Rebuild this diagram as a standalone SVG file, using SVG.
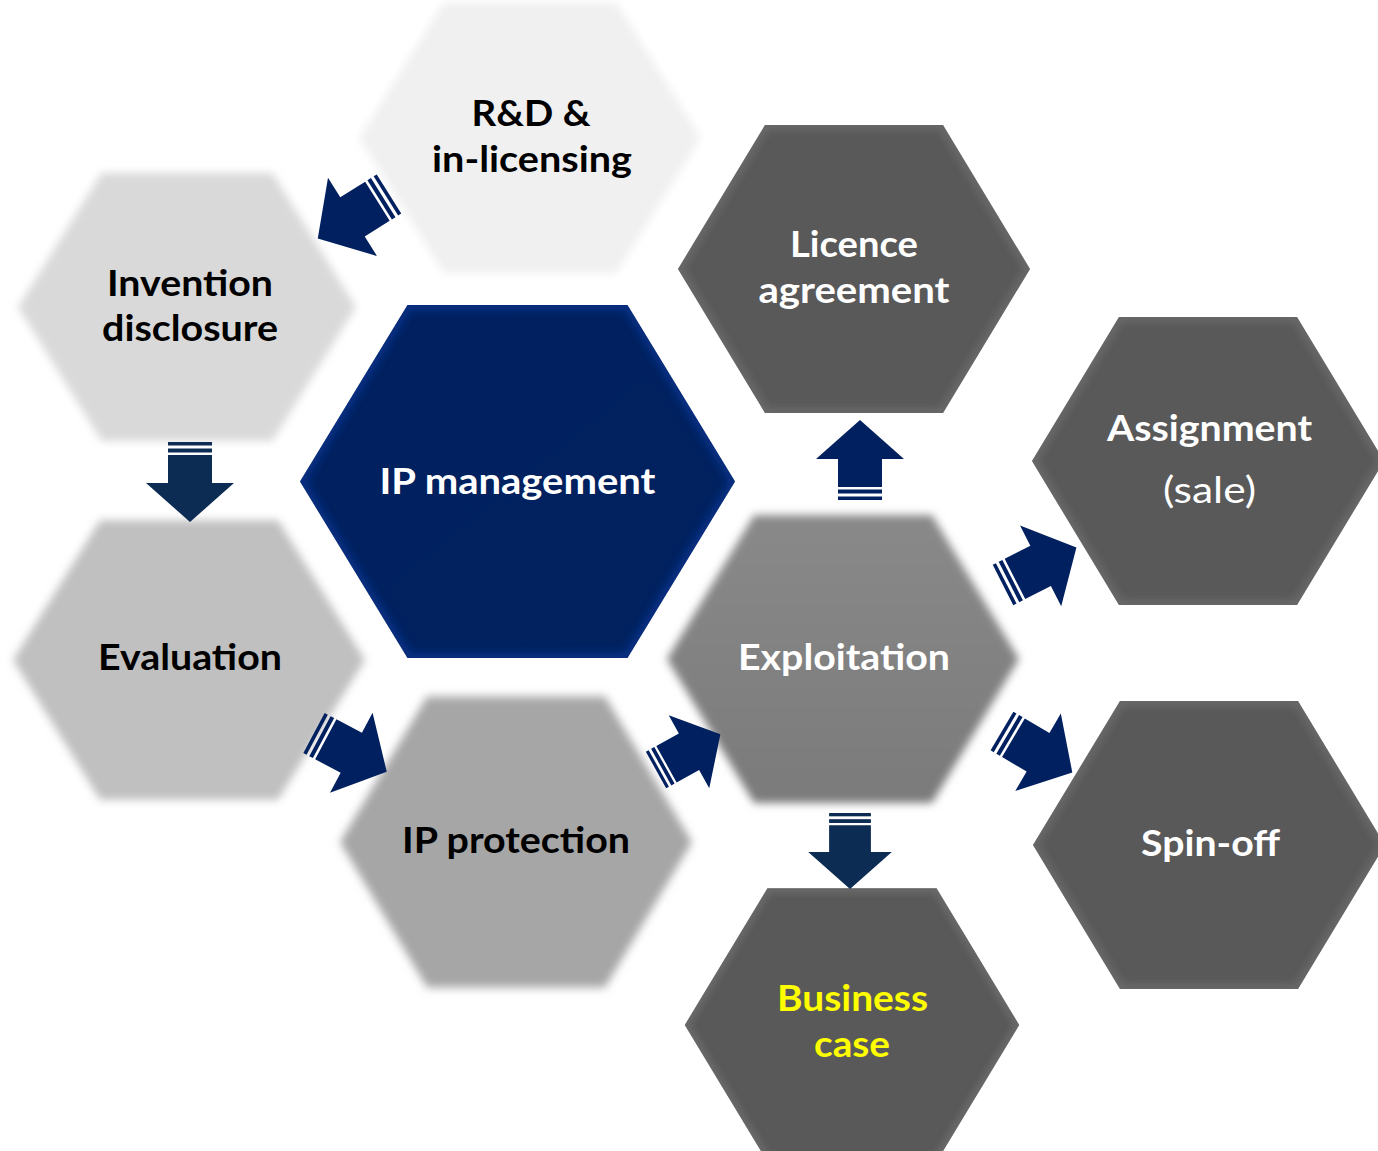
<svg xmlns="http://www.w3.org/2000/svg" xmlns:xlink="http://www.w3.org/1999/xlink" width="1378" height="1151" viewBox="0 0 1378 1151">
<style>
.t{font-family:Lato,"Open Sans","Liberation Sans",sans-serif;font-weight:700;font-size:36px;text-anchor:middle}
.r{font-family:Lato,"Open Sans","Liberation Sans",sans-serif;font-weight:400;font-size:36px;text-anchor:middle}
.dk{fill:#000}
.wh{fill:#fff}
.yl{fill:#ffff00}
.arr{fill:#002060}
.arr2{fill:#0c2c54}
</style>
<defs>
<polygon id="hex" points="-176,0 -89,-144 89,-144 176,0 89,144 -89,144"/>
<clipPath id="hexclip"><use xlink:href="#hex"/></clipPath>
<filter id="soft" x="-20%" y="-20%" width="140%" height="140%"><feGaussianBlur stdDeviation="4.5"/></filter>
<filter id="b3" x="-20%" y="-20%" width="140%" height="140%"><feGaussianBlur stdDeviation="4"/></filter>
<linearGradient id="gExpl" x1="0" y1="0" x2="0" y2="1"><stop offset="0" stop-color="#898989"/><stop offset="1" stop-color="#7b7b7b"/></linearGradient>
<linearGradient id="gIpm" x1="0" y1="0" x2="1" y2="1"><stop offset="0" stop-color="#00205f"/><stop offset="1" stop-color="#01225f"/></linearGradient>
<g id="arrow">
<rect x="0" y="-22" width="3.5" height="44"/>
<rect x="6.5" y="-22" width="4" height="44"/>
<polygon points="13,-22 41,-22 41,-44 80,0 41,44 41,22 13,22"/>
</g>
</defs>
<rect width="1378" height="1151" fill="#fff"/>

<g id="rd" transform="translate(530,138)">
<use xlink:href="#hex" fill="#f0f0f0" filter="url(#soft)" transform="scale(0.97,0.94)"/>
<text class="t dk" x="1" y="-12" textLength="119" lengthAdjust="spacingAndGlyphs">R&amp;D &amp;</text>
<text class="t dk" x="2" y="34" textLength="200" lengthAdjust="spacingAndGlyphs">in-licensing</text>
</g>

<g id="inv" transform="translate(187,307)">
<use xlink:href="#hex" fill="#d9d9d9" filter="url(#soft)" transform="scale(0.96,0.93)"/>
<text class="t dk" x="3" y="-11" textLength="166" lengthAdjust="spacingAndGlyphs">Invention</text>
<text class="t dk" x="3" y="34" textLength="176" lengthAdjust="spacingAndGlyphs">disclosure</text>
</g>

<g id="eval" transform="translate(189,660)">
<use xlink:href="#hex" fill="#c0c0c0" filter="url(#soft)" transform="scale(1,0.97)"/>
<text class="t dk" x="1" y="10" textLength="184" lengthAdjust="spacingAndGlyphs">Evaluation</text>
</g>

<g id="prot" transform="translate(516,842)">
<use xlink:href="#hex" fill="#a6a6a6" filter="url(#soft)" transform="scale(1,1.01)"/>
<text class="t dk" x="0" y="11" textLength="228" lengthAdjust="spacingAndGlyphs">IP protection</text>
</g>

<g id="expl" transform="translate(843,659)">
<use xlink:href="#hex" fill="url(#gExpl)" filter="url(#soft)"/>
<text class="t wh" x="1" y="11" textLength="212" lengthAdjust="spacingAndGlyphs">Exploitation</text>
</g>

<g id="ipm" transform="translate(517.5,481.5)">
<g transform="scale(1.2358,1.2257)">
<use xlink:href="#hex" fill="url(#gIpm)"/>
<use xlink:href="#hex" fill="none" stroke="#0d3a9c" stroke-width="8" clip-path="url(#hexclip)" filter="url(#b3)" opacity="0.7"/>
</g>
<text class="t wh" x="0" y="12.5" textLength="276" lengthAdjust="spacingAndGlyphs">IP management</text>
</g>

<g id="lic" transform="translate(854,269)">
<use xlink:href="#hex" fill="#595959"/>
<use xlink:href="#hex" fill="none" stroke="#777" stroke-width="10" clip-path="url(#hexclip)" filter="url(#b3)" opacity="0.6"/>
<text class="t wh" x="0" y="-12" textLength="128" lengthAdjust="spacingAndGlyphs">Licence</text>
<text class="t wh" x="0" y="34" textLength="191" lengthAdjust="spacingAndGlyphs">agreement</text>
</g>

<g id="asg" transform="translate(1208,461)">
<use xlink:href="#hex" fill="#595959"/>
<use xlink:href="#hex" fill="none" stroke="#777" stroke-width="10" clip-path="url(#hexclip)" filter="url(#b3)" opacity="0.6"/>
<text class="t wh" x="1.5" y="-20" textLength="205" lengthAdjust="spacingAndGlyphs">Assignment</text>
<text class="r wh" x="1.5" y="42" textLength="93" lengthAdjust="spacingAndGlyphs">(sale)</text>
</g>

<g id="spin" transform="translate(1209,845)">
<use xlink:href="#hex" fill="#595959"/>
<use xlink:href="#hex" fill="none" stroke="#777" stroke-width="10" clip-path="url(#hexclip)" filter="url(#b3)" opacity="0.6"/>
<text class="t wh" x="1.5" y="11" textLength="139" lengthAdjust="spacingAndGlyphs">Spin-off</text>
</g>

<g id="biz" transform="translate(852,1025)">
<g transform="scale(0.95)">
<use xlink:href="#hex" fill="#595959"/>
<use xlink:href="#hex" fill="none" stroke="#777" stroke-width="10" clip-path="url(#hexclip)" filter="url(#b3)" opacity="0.6"/>
</g>
<text class="t yl" x="0.5" y="-14" textLength="151" lengthAdjust="spacingAndGlyphs">Business</text>
<text class="t yl" x="0" y="32" textLength="76" lengthAdjust="spacingAndGlyphs">case</text>
</g>

<g id="connectors">
<use xlink:href="#arrow" class="arr" transform="translate(389,194) rotate(148) scale(1.05)"/>
<use xlink:href="#arrow" class="arr2" transform="translate(190,442) rotate(90)"/>
<use xlink:href="#arrow" class="arr" transform="translate(314,733) rotate(28) scale(1.03)"/>
<use xlink:href="#arrow" class="arr" transform="translate(656,770) rotate(-29) scale(0.92,0.95)"/>
<use xlink:href="#arrow" class="arr" transform="translate(860,500) rotate(-90)"/>
<use xlink:href="#arrow" class="arr" transform="translate(1003,585) rotate(-27) scale(1.03)"/>
<use xlink:href="#arrow" class="arr" transform="translate(1002,731) rotate(30.5) scale(1.02)"/>
<use xlink:href="#arrow" class="arr2" transform="translate(850,813) rotate(90) scale(0.95)"/>
</g>
</svg>
